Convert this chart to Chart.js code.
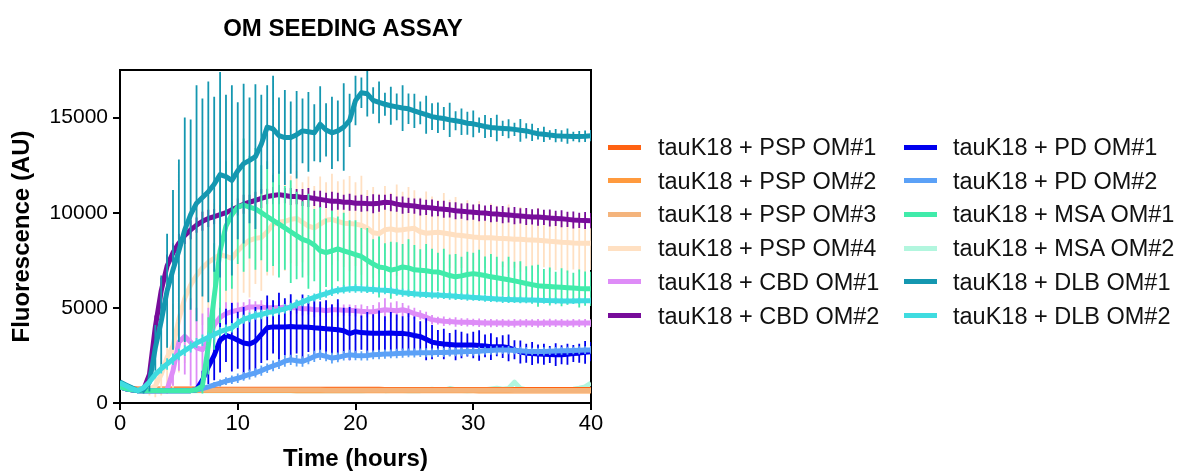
<!DOCTYPE html>
<html>
<head>
<meta charset="utf-8">
<script src="https://cdn.jsdelivr.net/npm/chart.js@4"></script>
<style>
  body { margin: 0; background: #fff; }
  #wrap { position: relative; width: 1183px; height: 471px; font-family: "Liberation Sans", Arial, sans-serif; }
  #title { position: absolute; left: 143px; width: 400px; top: 14px; line-height: 28px; text-align: center; font-weight: bold; font-size: 24px; color: #000; }
  .leg-line { position: absolute; width: 33px; height: 5px; }
  .leg-text { position: absolute; font-size: 23.5px; line-height: 28px; color: #111; white-space: nowrap; }
</style>
</head>
<body>
<div id="wrap">
  <canvas id="c" width="1183" height="471"></canvas>
  <div id="title">OM SEEDING ASSAY</div>
  <div id="legend"></div>
</div>
<script>
// sampling times (hours)
const hours = [0,0.5,1,1.5,2,2.5,3,3.5,4,4.5,5,5.5,6,6.5,7,7.5,8,8.5,9,9.5,10,10.5,11,11.5,12,12.5,13,13.5,14,14.5,15,15.5,16,16.5,17,17.5,18,18.5,19,19.5,20,20.5,21,21.5,22,22.5,23,23.5,24,24.5,25,25.5,26,26.5,27,27.5,28,28.5,29,29.5,30,30.5,31,31.5,32,32.5,33,33.5,34,34.5,35,35.5,36,36.5,37,37.5,38,38.5,39,39.5,40];

const xTicks = [0, 10, 20, 30, 40];
const yTicks = [0, 5000, 10000, 15000];

const names = [
  "tauK18 + PSP OM#1", "tauK18 + PSP OM#2", "tauK18 + PSP OM#3", "tauK18 + PSP OM#4",
  "tauK18 + CBD OM#1", "tauK18 + CBD OM#2", "tauK18 + PD OM#1", "tauK18 + PD OM#2",
  "tauK18 + MSA OM#1", "tauK18 + MSA OM#2", "tauK18 + DLB OM#1", "tauK18 + DLB OM#2"
];
const colors = [
  "#FF6212", "#FF9A3E", "#F4B47C", "#FFE0C2",
  "#DE8CF7", "#770C9A", "#0000EE", "#5BA1F7",
  "#40EBAA", "#B2F6DE", "#1497B0", "#3FDCE0"
];

// mean fluorescence per series
const psp1 = [880,800,760,740,735,735,735,735,735,735,
  735,735,735,730,730,730,728,728,728,728,
  728,728,728,726,726,726,724,724,724,724,
  724,724,722,722,722,720,720,720,720,720,
  720,720,718,718,718,716,716,716,716,716,
  716,716,714,714,714,712,712,712,712,712,
  712,712,712,710,710,710,710,708,708,708,
  708,708,708,706,706,706,706,704,704,704,
  704];
const psp2 = [900,780,700,670,660,660,660,660,660,660,
  660,660,658,658,658,656,656,656,655,655,
  655,655,654,654,653,653,652,652,651,651,
  650,650,650,649,649,648,648,647,647,646,
  646,645,645,645,644,644,643,643,642,642,
  642,641,641,640,640,640,639,639,638,638,
  638,637,637,636,636,636,635,635,634,634,
  634,633,633,632,632,632,631,631,630,630,
  630];
const psp3 = [860,760,710,695,690,690,690,690,690,688,
  688,688,687,687,686,686,685,685,684,684,
  683,683,682,682,681,681,680,680,680,679,
  679,678,678,677,677,676,676,675,675,675,
  674,674,673,673,672,672,672,671,671,670,
  670,670,669,669,668,668,668,667,667,666,
  666,666,665,665,665,664,664,663,663,663,
  662,662,662,661,661,660,660,660,660,660,
  660];
const psp4 = [850,750,700,650,650,700,900,1500,2400,3000,
  4400,5500,6200,6700,7100,7400,7600,7800,7700,7600,
  8000,8300,8550,8650,8700,9000,9400,9500,9550,9650,
  9700,9500,9300,9200,9400,9600,9650,9550,9450,9430,
  9400,9340,9200,8950,8900,9100,9150,9080,9100,9150,
  9180,9000,8920,8950,8970,8930,8880,8830,8800,8760,
  8720,8700,8690,8680,8660,8650,8630,8610,8600,8580,
  8570,8550,8530,8500,8480,8450,8430,8410,8400,8400,
  8390];
const cbd1 = [850,750,700,650,650,650,650,650,700,1700,
  3200,3500,3200,2900,2800,3300,4100,4500,4700,4800,
  4880,4950,5050,5050,5050,5000,5000,5000,5050,5000,
  5000,4950,4950,4900,4900,4850,4900,4900,4880,4870,
  4850,4820,4800,4800,4850,4900,4880,4850,4900,4820,
  4700,4620,4500,4380,4330,4300,4280,4260,4250,4240,
  4230,4220,4210,4200,4200,4200,4190,4190,4200,4200,
  4200,4190,4200,4210,4200,4200,4190,4200,4200,4200,
  4200];
const cbd2 = [850,750,700,650,700,1500,4000,5900,7200,7900,
  8400,8800,9100,9350,9550,9700,9800,9900,10000,10150,
  10300,10450,10550,10650,10750,10850,10900,10950,10900,10850,
  10850,10800,10800,10750,10700,10650,10600,10600,10550,10550,
  10500,10500,10480,10470,10500,10550,10530,10450,10400,10380,
  10350,10300,10280,10250,10210,10180,10150,10100,10080,10050,
  10030,10000,9980,9950,9930,9900,9880,9850,9830,9800,
  9780,9770,9750,9720,9700,9680,9650,9620,9600,9590,
  9580];
const pd1 = [850,750,700,650,650,650,650,650,650,650,
  650,650,650,700,1200,1900,2500,3300,3550,3450,
  3300,3150,3100,3250,3600,3950,4000,4000,4000,4020,
  4000,4000,3980,3950,3930,3900,3880,3850,3800,3650,
  3750,3700,3680,3660,3660,3660,3680,3650,3660,3620,
  3550,3490,3350,3200,3140,3100,3080,3050,3050,3050,
  3050,3020,3000,2960,2960,2960,2900,2800,2680,2620,
  2600,2570,2560,2550,2540,2530,2560,2600,2620,2660,
  2700];
const pd2 = [850,750,700,650,650,650,650,650,650,650,
  650,650,650,700,750,850,950,1050,1150,1220,
  1300,1400,1500,1580,1700,1830,1950,2050,2200,2270,
  2220,2180,2300,2450,2530,2450,2360,2400,2480,2530,
  2500,2480,2500,2530,2550,2570,2580,2600,2620,2630,
  2630,2640,2640,2640,2650,2660,2670,2680,2690,2700,
  2700,2720,2740,2760,2780,2790,2780,2760,2740,2720,
  2710,2700,2710,2720,2730,2740,2750,2760,2770,2780,
  2790];
const msa1 = [850,750,700,650,650,650,650,650,650,650,
  650,650,650,700,900,3000,5600,8000,9300,9900,
  10300,10400,10300,10200,10000,9800,9600,9400,9200,9000,
  8800,8600,8500,8300,8000,7900,8000,8100,8000,7900,
  7800,7700,7500,7300,7150,7100,6980,7050,7150,7100,
  7000,6980,6950,6900,6890,6800,6700,6630,6680,6750,
  6800,6750,6700,6630,6580,6530,6480,6420,6350,6280,
  6220,6160,6140,6120,6100,6080,6060,6040,6020,6010,
  6000];
const msa2 = [840,740,680,650,640,640,640,640,640,640,
  640,640,640,640,640,640,640,640,640,640,
  640,640,640,640,640,650,640,640,640,640,
  640,640,650,640,640,640,640,640,650,640,
  640,650,660,700,680,650,660,700,660,650,
  660,650,680,720,680,660,760,700,660,650,
  660,680,700,740,780,720,760,1100,760,700,
  680,660,660,680,700,690,700,720,780,850,
  1050];
const dlb1 = [1100,950,800,650,700,1100,2900,4300,5900,7000,
  8000,9100,9900,10500,10800,11100,11500,12000,11900,11700,
  12200,12580,12750,12950,13600,14500,14400,14050,13950,13950,
  14100,14300,14250,14200,14650,14350,14200,14300,14500,14850,
  15900,16300,16250,15900,15800,15700,15620,15560,15500,15460,
  15350,15250,15150,15050,14990,14950,14880,14830,14780,14700,
  14670,14600,14530,14480,14450,14430,14410,14380,14330,14300,
  14220,14150,14120,14080,14050,14030,14020,14000,14000,14020,
  14050];
const dlb2 = [1050,900,750,650,800,1100,1500,1800,2050,2300,
  2550,2750,2950,3150,3300,3450,3600,3750,3850,3950,
  4200,4400,4500,4600,4650,4750,4800,4870,4950,5050,
  5200,5300,5450,5550,5650,5750,5850,5930,5970,6000,
  6020,6000,5980,5960,5940,5930,5900,5850,5800,5770,
  5740,5720,5700,5680,5670,5650,5630,5610,5590,5570,
  5550,5530,5510,5490,5470,5450,5440,5430,5420,5410,
  5410,5400,5390,5380,5370,5360,5360,5360,5370,5370,
  5380];

// error bar half-lengths (SD)
const psp3Err = [60,60,60,60,60,60,60,60,60,60,
  60,60,60,60,60,60,60,60,60,60,
  60,60,60,60,60,60,60,60,60,60,
  60,60,60,60,60,60,60,60,60,60,
  60,60,60,60,60,60,60,60,60,60,
  60,60,60,60,60,60,60,60,60,60,
  60,60,60,60,60,60,60,60,60,60,
  60,60,60,60,60,60,60,60,60,60,
  60];
const psp4Err = [100,100,100,100,150,300,600,1100,1500,2200,
  2800,3400,2900,3600,3000,3500,2900,3300,2800,3100,
  2900,2500,3000,2400,2800,2300,2700,2200,2600,2300,
  2500,2100,2600,2200,2500,2000,2400,2100,2300,2500,
  2200,2600,2000,2400,2100,2300,1900,2400,2000,2200,
  2000,1800,2200,1900,1700,2100,1800,2000,1700,1900,
  1700,1900,1600,1800,1700,1500,1800,1500,1700,1600,
  1500,1700,1400,1600,1500,1400,1600,1400,1500,1500,
  1400];
const cbd1Err = [50,50,50,50,50,50,50,50,200,800,
  1500,2000,2300,2100,1900,1700,1200,800,600,500,
  400,350,400,300,350,300,400,350,300,350,
  300,350,300,400,300,350,300,350,300,300,
  300,350,300,350,450,600,400,500,350,300,
  300,250,300,250,200,250,200,250,200,220,
  200,220,200,220,200,220,200,220,200,220,
  200,220,200,220,200,220,200,220,200,220,
  200];
const cbd2Err = [50,50,50,50,100,300,600,700,600,500,
  500,450,500,400,500,450,400,500,450,400,
  450,500,400,450,500,400,450,500,400,450,
  400,450,500,400,450,400,500,450,400,450,
  400,450,400,500,450,400,450,400,450,400,
  400,450,400,450,400,450,400,450,400,450,
  400,450,400,450,400,450,400,450,400,450,
  400,450,400,450,400,450,400,450,400,450,
  400];
const pd1Err = [50,50,50,50,50,50,50,50,50,50,
  50,50,50,100,500,900,1300,1700,1400,1800,
  1500,1900,1400,1800,1500,1700,1400,1800,1500,1700,
  1400,1700,1300,1600,1400,1500,1300,1600,1200,1400,
  1200,900,1100,1000,1200,900,1100,1000,900,1100,
  1000,800,1100,900,700,800,600,800,700,600,
  700,800,600,700,500,600,700,500,600,500,
  600,500,550,450,600,500,550,450,500,600,
  500];
const pd2Err = [50,50,50,50,50,50,50,50,50,50,
  50,50,50,60,80,100,150,180,200,220,
  250,230,260,240,270,250,280,260,290,270,
  300,280,260,300,270,250,280,260,250,270,
  250,240,260,230,250,240,230,250,240,230,
  240,220,240,230,220,240,230,220,230,220,
  220,230,210,220,230,210,220,200,210,220,
  200,210,220,200,210,200,210,200,210,200,
  200];
const msa1Err = [100,100,100,100,100,100,100,100,100,100,
  100,100,100,150,400,1500,2800,3800,3400,3900,
  3000,3500,2700,3200,2500,2900,2400,2800,2200,2700,
  2300,2000,2500,1900,2300,1800,2100,1700,2000,1700,
  1800,1500,1700,1300,1600,1300,1500,1400,1200,1500,
  1300,1100,1400,1200,1000,1300,1100,1200,1000,1200,
  1100,1300,1000,1200,1100,900,1200,1000,1100,900,
  1000,1100,900,1000,800,1000,900,800,1000,900,
  900];
const dlb1Err = [100,100,100,100,200,500,1200,2400,3000,4200,
  4800,5900,5000,6200,5200,5800,4600,5400,4300,5000,
  3600,4200,3300,3800,2600,2200,2800,2000,2500,1900,
  2300,1700,2100,1500,2000,1400,1900,1600,2300,1400,
  1300,800,1200,700,1100,600,1000,700,1200,800,
  900,600,1000,700,800,600,900,500,700,600,
  700,400,600,500,700,400,500,350,600,400,
  450,300,400,250,350,300,400,250,300,300,
  300];
const dlb2Err = [100,100,80,60,100,150,200,250,300,300,
  300,280,300,260,300,250,280,250,270,250,
  260,240,260,230,250,220,240,230,250,220,
  240,220,230,210,240,220,230,210,220,200,
  220,210,200,220,200,210,190,200,210,190,
  200,190,180,200,190,180,200,190,180,190,
  180,170,190,180,170,190,180,170,180,170,
  170,180,160,170,180,160,170,160,170,160,
  170];

const means = [psp1, psp2, psp3, psp4, cbd1, cbd2, pd1, pd2, msa1, msa2, dlb1, dlb2];
const errs = [null, null, psp3Err, psp4Err, cbd1Err, cbd2Err, pd1Err, pd2Err, msa1Err, null, dlb1Err, dlb2Err];

const FONT = '"Liberation Sans", Arial, sans-serif';

const datasets = means.map((vals, i) => ({
  label: names[i],
  data: hours.map((h, k) => ({ x: h, y: vals[k] })),
  err: errs[i],
  borderColor: colors[i],
  backgroundColor: colors[i],
  borderWidth: 5,
  borderJoinStyle: "round",
  pointRadius: 0,
  tension: 0,
  fill: false,
  // flat MSA#2 trace sits under the PSP band; everything else stacks in legend order
  order: i === 9 ? 20 : means.length - i
}));

// vertical SD bars, drawn just under each series' mean line
const errorBars = {
  id: "errorBars",
  beforeDatasetDraw(chart, args) {
    const ds = chart.data.datasets[args.index];
    if (!ds.err) return;
    const { ctx, chartArea: a, scales: { x, y } } = chart;
    ctx.save();
    ctx.beginPath();
    ctx.rect(a.left, a.top, a.right - a.left, a.bottom - a.top);
    ctx.clip();
    ctx.strokeStyle = ds.borderColor;
    ctx.lineWidth = 1.8;
    ctx.beginPath();
    ds.data.forEach((p, k) => {
      const e = ds.err[k];
      const px = x.getPixelForValue(p.x);
      ctx.moveTo(px, y.getPixelForValue(p.y + e));
      ctx.lineTo(px, y.getPixelForValue(p.y - e));
    });
    ctx.stroke();
    ctx.restore();
  }
};

// top and right edges of the plot box
const frame = {
  id: "frame",
  beforeDatasetsDraw(chart) {
    const { ctx, chartArea: a } = chart;
    ctx.save();
    ctx.strokeStyle = "#000";
    ctx.lineWidth = 2;
    ctx.beginPath();
    ctx.moveTo(a.left, a.top);
    ctx.lineTo(a.right, a.top);
    ctx.lineTo(a.right, a.bottom);
    ctx.stroke();
    ctx.restore();
  }
};

new Chart(document.getElementById("c"), {
  type: "line",
  data: { datasets },
  plugins: [errorBars, frame],
  options: {
    responsive: false,
    animation: false,
    devicePixelRatio: 1,
    layout: { padding: { left: 0, top: 70, right: 592, bottom: 0 } },
    plugins: {
      legend: { display: false },
      tooltip: { enabled: false },
      title: { display: false }
    },
    scales: {
      x: {
        type: "linear",
        min: 0,
        max: 40,
        afterBuildTicks: s => { s.ticks = xTicks.map(v => ({ value: v })); },
        afterFit: s => { s.height = 68; },
        ticks: { color: "#000", font: { family: FONT, size: 22 }, padding: 1, maxRotation: 0 },
        grid: { drawOnChartArea: false, tickLength: 7, color: "#000", lineWidth: 2 },
        border: { color: "#000", width: 2 },
        title: {
          display: true, text: "Time (hours)", color: "#000",
          font: { family: FONT, size: 24, weight: "bold", lineHeight: 1 },
          padding: { top: 0, bottom: 0 }
        }
      },
      y: {
        min: 0,
        max: 17500,
        afterBuildTicks: s => { s.ticks = yTicks.map(v => ({ value: v })); },
        afterFit: s => { s.width = 120; },
        ticks: { color: "#000", font: { family: FONT, size: 21 }, padding: 5, callback: v => String(v) },
        grid: { drawOnChartArea: false, tickLength: 7, color: "#000", lineWidth: 2 },
        border: { color: "#000", width: 2 },
        title: {
          display: true, text: "Fluorescence (AU)", color: "#000",
          font: { family: FONT, size: 24, weight: "bold", lineHeight: 1 },
          padding: { top: 10, bottom: 0 }
        }
      }
    }
  }
});

// two-column legend to the right of the plot
const legend = document.getElementById("legend");
names.forEach((name, i) => {
  const col = Math.floor(i / 6), row = i % 6;
  const cy = 147 + row * 33.7;
  const lineX = col === 0 ? 608 : 904;
  const textX = col === 0 ? 658 : 953;
  const ln = document.createElement("div");
  ln.className = "leg-line";
  ln.style.left = lineX + "px";
  ln.style.top = (cy - 2.5) + "px";
  ln.style.background = colors[i];
  const tx = document.createElement("div");
  tx.className = "leg-text";
  tx.style.left = textX + "px";
  tx.style.top = (cy - 14) + "px";
  tx.textContent = name;
  legend.appendChild(ln);
  legend.appendChild(tx);
});
</script>
</body>
</html>
